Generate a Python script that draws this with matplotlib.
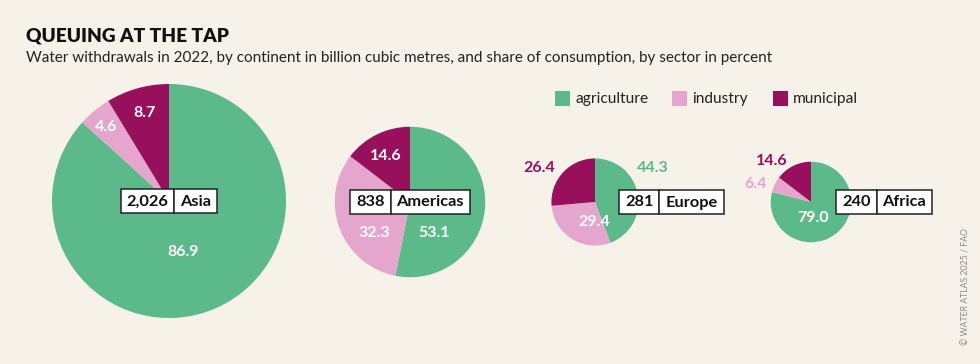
import matplotlib
matplotlib.use('Agg')
import matplotlib.pyplot as plt
from matplotlib.patches import Rectangle
import numpy as np

# ---------------- data ----------------
continents = ['Asia', 'Americas', 'Europe', 'Africa']
withdrawals = [2026, 838, 281, 240]
withdrawal_labels = ['2,026', '838', '281', '240']
sectors = ['agriculture', 'industry', 'municipal']
agriculture = [86.9, 53.1, 44.3, 79.0]
industry = [4.6, 32.3, 29.4, 6.4]
municipal = [8.7, 14.6, 26.4, 14.6]

# ---------------- style / layout ----------------
colors = ['#5cb98a', '#e4a6cc', '#980f5b']
BG = '#f6f2ea'
FONT = 'Lato'
W, H = 980, 364
centers_px = [(169, 201), (410, 202), (595, 202), (811, 202)]
scale = 117 / np.sqrt(max(withdrawals))
# label offsets in units of radius (x right, y up)
label_offsets = [
    [(0.12, -0.44), (-0.54, 0.63), (-0.21, 0.75)],
    [(0.32, -0.41), (-0.47, -0.41), (-0.32, 0.61)],
    [(1.33, 0.77), (-0.02, -0.47), (-1.28, 0.77)],
    [(0.05, -0.40), (-1.38, 0.45), (-0.98, 1.03)],
]
box_left_offset = [None, None, 24, 25]

fig = plt.figure(figsize=(W / 100, H / 100), dpi=100, facecolor=BG)
ax = fig.add_axes([0, 0, 1, 1])
ax.set_facecolor(BG)

def Y(py):
    return H - py

renderer = fig.canvas.get_renderer()

for i, cont in enumerate(continents):
    vals = [agriculture[i], industry[i], municipal[i]]
    cx, cy = centers_px[i][0], Y(centers_px[i][1])
    r = scale * np.sqrt(withdrawals[i])
    ax.pie(vals, colors=colors, startangle=90, counterclock=False,
           center=(cx, cy), radius=r, wedgeprops=dict(linewidth=0),
           normalize=True)
    for j, v in enumerate(vals):
        ox, oy = label_offsets[i][j]
        inside = np.hypot(ox, oy) < 1
        ax.text(cx + ox * r, cy + oy * r, f'{v:.1f}', ha='center', va='center',
                fontsize=11.5, fontweight='bold', family=FONT,
                color='white' if inside else colors[j], zorder=5)
    # label box
    t1 = ax.text(0, 0, withdrawal_labels[i], fontsize=11.8, fontweight='bold',
                 family=FONT, color='#111111', va='center', ha='left', zorder=8)
    t2 = ax.text(0, 0, cont, fontsize=11.8, fontweight='bold',
                 family=FONT, color='#111111', va='center', ha='left', zorder=8)
    w1 = t1.get_window_extent(renderer).width
    w2 = t2.get_window_extent(renderer).width
    pad = 6
    c1 = w1 + 2 * pad
    c2 = w2 + 2 * pad
    total = c1 + c2
    if box_left_offset[i] is None:
        left = cx - total / 2
    else:
        left = cx + box_left_offset[i]
    bh = 24
    ax.add_patch(Rectangle((left, cy - bh / 2), c1, bh, facecolor='white',
                           edgecolor='#222222', linewidth=1.1, zorder=7))
    ax.add_patch(Rectangle((left + c1, cy - bh / 2), c2, bh, facecolor='white',
                           edgecolor='#222222', linewidth=1.1, zorder=7))
    t1.set_position((left + pad, cy - 0.5))
    t2.set_position((left + c1 + pad, cy - 0.5))

# legend
leg_x = [555, 672, 773]
for k, s in enumerate(sectors):
    ax.add_patch(Rectangle((leg_x[k], Y(106)), 15, 15, facecolor=colors[k],
                           edgecolor='none'))
    ax.text(leg_x[k] + 20, Y(98.5), s, fontsize=11.2, family=FONT,
            color='#222222', va='center', ha='left')

# titles
ax.text(26, Y(42), 'QUEUING AT THE TAP', fontsize=13.8, fontweight='heavy',
        family=FONT, color='#111111', va='baseline', ha='left')
ax.text(26, Y(62), 'Water withdrawals in 2022, by continent in billion cubic metres, '
        'and share of consumption, by sector in percent', fontsize=11,
        family=FONT, color='#222222', va='baseline', ha='left')
ax.text(966, Y(345), '© WATER ATLAS 2025 / FAO', fontsize=6.3, family=FONT,
        color='#8a8a8a', rotation=90, va='bottom', ha='center')

ax.set_xlim(0, W)
ax.set_ylim(0, H)
ax.set_aspect('auto')
ax.axis('off')
fig.savefig('out.png', dpi=100, facecolor=BG)
